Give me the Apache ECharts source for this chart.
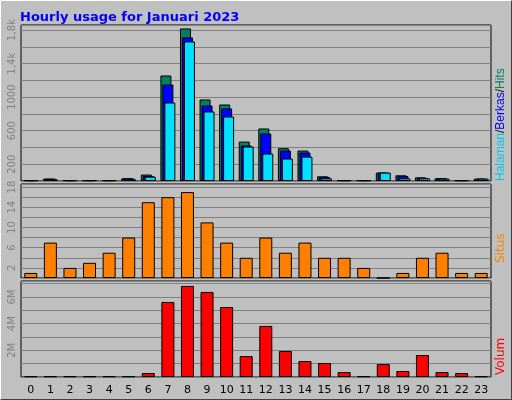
<!DOCTYPE html>
<html><head><meta charset="utf-8">
<script src="https://cdn.jsdelivr.net/npm/echarts@6/dist/echarts.min.js"></script>
<style>
html,body{margin:0;padding:0;background:#c0c0c0;}
#c{position:absolute;left:0;top:0;width:510px;height:398px;border-left:1px solid #fff;border-top:1px solid #fff;border-right:1px solid #404040;border-bottom:1px solid #404040;}
</style></head><body><div id="c"></div>
<script>
const hours = ['0','1','2','3','4','5','6','7','8','9','10','11','12','13','14','15','16','17','18','19','20','21','22','23'];
const hits  = [10,28,10,10,10,32,77,1258,1819,972,912,470,626,391,363,56,10,10,100,68,44,32,10,28];
const files = [10,28,10,10,10,32,60,1150,1712,900,865,423,566,363,339,48,10,10,100,60,36,32,10,28];
const pages = [10,20,10,10,10,20,52,936,1664,829,769,411,327,268,291,32,10,10,100,32,32,28,10,28];
const sites = [1,7,2,3,5,8,15,16,17,11,7,4,8,5,7,4,4,2,0,1,4,5,1,1];
const volume = [0.05,0.05,0.05,0.05,0.05,0.05,0.3,5.63,6.83,6.38,5.25,1.57,3.83,1.95,1.2,1.05,0.37,0.05,0.97,0.45,1.65,0.37,0.3,0.05];

const chart = echarts.init(document.getElementById('c'));
const gl = {show:true,lineStyle:{color:'#808080',width:1}};
const lab = {rotate:90,color:'#808080',fontFamily:'DejaVu Sans',fontSize:10,margin:4};
const grids = [
 {left:20,right:20,top:24,height:156},
 {left:20,right:20,top:183,height:94},
 {left:20,right:20,top:280,height:96}
];
grids.forEach(g=>{g.show=true;g.backgroundColor='#c0c0c0';g.borderColor='#000';g.borderWidth=1;});
const xa = i => ({type:'category',data:hours,gridIndex:i,axisLine:{show:false},axisTick:{show:false},
  axisLabel:{show:i===2,color:'#000',fontFamily:'DejaVu Sans',fontSize:11,margin:8,interval:0}});
const bs = {borderColor:'#000',borderWidth:1};
chart.setOption({
 animation:false,
 backgroundColor:'#c0c0c0',
 title:{text:'Hourly usage for Januari 2023',left:14,top:5,textStyle:{color:'#0000ff',fontFamily:'DejaVu Sans',fontWeight:'bold',fontSize:13}},
 grid:grids,
 xAxis:[
  {type:'category',data:hours,gridIndex:0,show:false},
  {type:'category',data:hours,gridIndex:1,show:false},
  {type:'category',data:hours,gridIndex:2,show:false},
  xa(0),xa(1),xa(2)
 ].slice(3).map((a,i)=>a),
 yAxis:[
  {gridIndex:0,min:0,max:1860,interval:200,splitLine:gl,axisLine:{show:false},axisTick:{show:false},
   axisLabel:Object.assign({},lab,{formatter:v=>({200:'200',600:'600',1000:'1000',1400:'1,4k',1800:'1,8k'}[v]||'')})},
  {gridIndex:1,min:0,max:18.6,interval:2,splitLine:gl,axisLine:{show:false},axisTick:{show:false},
   axisLabel:Object.assign({},lab,{formatter:v=>(v%4===2?String(v):'')})},
  {gridIndex:2,min:0,max:7.2,interval:1,splitLine:gl,axisLine:{show:false},axisTick:{show:false},
   axisLabel:Object.assign({},lab,{formatter:v=>(v%2===0&&v>0?v+'M':'')})}
 ],
 graphic:[
  {type:'text',style:{text:'{a|Halaman}{b|/}{c|Berkas}{b|/}{d|Hits}',fontFamily:'DejaVu Sans',fontSize:12,
    rich:{a:{fill:'#00c8e8',fontSize:12},b:{fill:'#000',fontSize:12},c:{fill:'#0000ff',fontSize:12},d:{fill:'#008060',fontSize:12}}},
    rotation:Math.PI/2,x:494,y:180},
  {type:'text',style:{text:'Situs',fill:'#ff8000',fontFamily:'DejaVu Sans',fontSize:12},rotation:Math.PI/2,x:494,y:262},
  {type:'text',style:{text:'Volum',fill:'#ff0000',fontFamily:'DejaVu Sans',fontSize:12},rotation:Math.PI/2,x:494,y:374}
 ],
 series:[
  {type:'bar',xAxisIndex:0,yAxisIndex:0,data:hits,barWidth:11,barGap:'-82%',itemStyle:Object.assign({color:'#008060'},bs)},
  {type:'bar',xAxisIndex:0,yAxisIndex:0,data:files,barWidth:11,barGap:'-82%',itemStyle:Object.assign({color:'#0000ff'},bs)},
  {type:'bar',xAxisIndex:0,yAxisIndex:0,data:pages,barWidth:11,barGap:'-82%',itemStyle:Object.assign({color:'#00e0ff'},bs)},
  {type:'bar',xAxisIndex:1,yAxisIndex:1,data:sites,barWidth:13,itemStyle:Object.assign({color:'#ff8000'},bs)},
  {type:'bar',xAxisIndex:2,yAxisIndex:2,data:volume,barWidth:13,itemStyle:Object.assign({color:'#ff0000'},bs)}
 ]
});
</script></body></html>
